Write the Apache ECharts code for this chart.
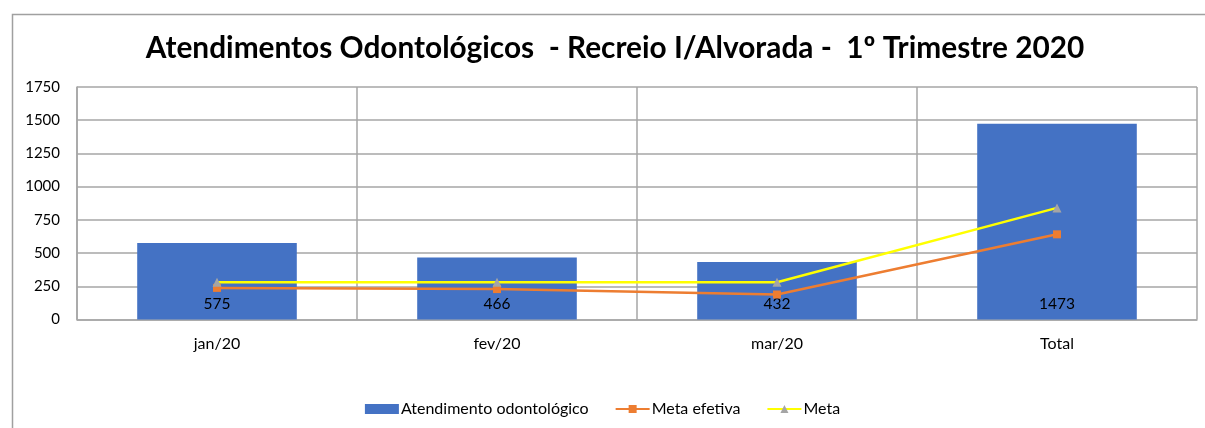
<!DOCTYPE html>
<html>
<head>
<meta charset="utf-8">
<script src="https://cdn.jsdelivr.net/npm/echarts@6/dist/echarts.min.js"></script>
<style>
html,body{margin:0;padding:0;background:#fff;}
#c{width:1205px;height:428px;}
</style>
</head>
<body>
<div id="c"></div>
<script>
var categories = ['jan/20', 'fev/20', 'mar/20', 'Total'];
var atendimentos = [575, 466, 432, 1473];
var metaEfetiva = [238, 229, 188, 641];
var meta = [280, 280, 280, 840];
var yTicks = [0, 250, 500, 750, 1000, 1250, 1500, 1750];

var FONT = 'Lato';
var chart = echarts.init(document.getElementById('c'), null, {renderer: 'canvas'});
var gridColor = '#a6a6a6';
chart.setOption({
  animation: false,
  backgroundColor: '#ffffff',
  textStyle: {fontFamily: FONT},
  graphic: [{
    type: 'rect', left: 10, top: 12, z: -10,
    shape: {x: 0, y: 0, width: 1400, height: 600},
    style: {fill: null, stroke: '#a0a0a0', lineWidth: 1.5}
  }],
  title: {
    text: 'Atendimentos Odontológicos  - Recreio I/Alvorada -  1º Trimestre 2020',
    left: 610, textAlign: 'center', top: 28,
    textStyle: {fontFamily: FONT, fontWeight: 'bold', fontSize: 29.8, color: '#000'}
  },
  legend: {
    bottom: 6, left: 'center', itemGap: 26, itemWidth: 34, itemHeight: 10,
    textStyle: {fontFamily: FONT, fontSize: 16, color: '#000', padding: [0, 0, 0, -3]},
    data: [
      {name: 'Atendimento odontológico', icon: 'rect'},
      {name: 'Meta efetiva'},
      {name: 'Meta'}
    ]
  },
  grid: {left: 77, right: 8, top: 87, bottom: 108.5, containLabel: false},
  xAxis: {
    type: 'category', data: categories, boundaryGap: true,
    axisLine: {show: true, lineStyle: {color: gridColor, width: 1.5}},
    axisTick: {show: false},
    splitLine: {show: true, interval: 0, lineStyle: {color: gridColor, width: 1.5}},
    axisLabel: {fontFamily: FONT, fontSize: 16, color: '#000', margin: 16, interval: 0}
  },
  yAxis: {
    type: 'value', min: yTicks[0], max: yTicks[yTicks.length - 1], interval: 250,
    axisLine: {show: true, lineStyle: {color: gridColor, width: 1.5}},
    axisTick: {show: false},
    splitLine: {show: true, lineStyle: {color: gridColor, width: 1.5}},
    axisLabel: {fontFamily: FONT, fontSize: 15, color: '#000', margin: 17,
      formatter: function (v) { return String(v); }}
  },
  series: [
    {
      name: 'Atendimento odontológico', type: 'bar', data: atendimentos,
      barWidth: '57%',
      itemStyle: {color: '#4472C4'},
      label: {show: true, position: 'insideBottom', distance: 8,
        fontFamily: FONT, fontSize: 15.5, color: '#000'}
    },
    {
      name: 'Meta efetiva', type: 'line', data: metaEfetiva,
      symbol: 'rect', symbolSize: 8,
      lineStyle: {color: '#ED7D31', width: 2.5},
      itemStyle: {color: '#ED7D31'}
    },
    {
      name: 'Meta', type: 'line', data: meta,
      symbol: 'triangle', symbolSize: 9,
      lineStyle: {color: '#FFFF00', width: 2.5},
      itemStyle: {color: '#A5A5A5'}
    }
  ]
});
</script>
</body>
</html>
